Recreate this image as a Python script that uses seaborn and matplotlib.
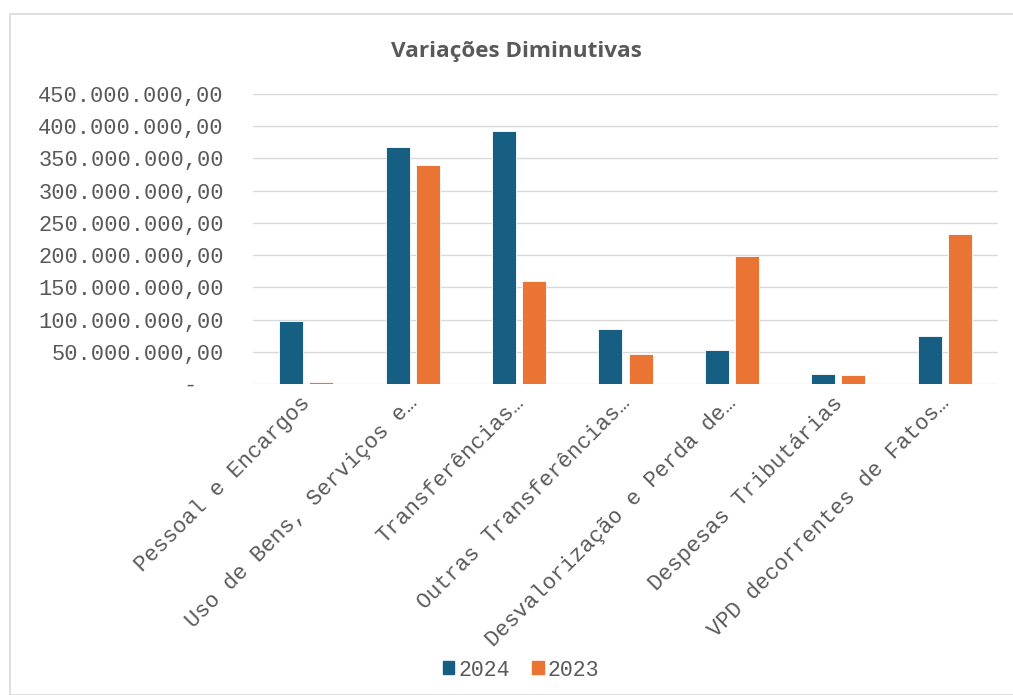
import numpy as np
import pandas as pd
import matplotlib.pyplot as plt
import matplotlib.ticker as mticker
import matplotlib.transforms as mtransforms
from matplotlib.patches import Rectangle
import seaborn as sns

categorias = [
    "Pessoal e Encargos",
    "Uso de Bens, Serviços e…",
    "Transferências…",
    "Outras Transferências…",
    "Desvalorização e Perda de…",
    "Despesas Tributárias",
    "VPD decorrentes de Fatos…",
]
anos = ["2024", "2023"]
valores_2024 = [98e6, 367e6, 393e6, 86e6, 53e6, 16e6, 74e6]
valores_2023 = [3e6, 340e6, 160e6, 47e6, 199e6, 14e6, 232e6]
cores = {"2024": "#175E83", "2023": "#E97434"}

df = pd.DataFrame({
    "categoria": categorias * 2,
    "ano": ["2024"] * len(categorias) + ["2023"] * len(categorias),
    "valor": valores_2024 + valores_2023,
})

sns.set_theme(style="white")
plt.rcParams["font.family"] = ["Liberation Mono", "DejaVu Sans Mono"]
cinza = "#595959"

fig = plt.figure(figsize=(10.13, 6.95), dpi=100)
ax = fig.add_axes([253 / 1013, 1 - 384 / 695, 745 / 1013, 290 / 695])

# moldura do gráfico
fig.patches.append(Rectangle((10 / 1013, 0), 1.1, 1 - 14 / 695, transform=fig.transFigure,
                             fill=False, edgecolor="#D9D9D9", linewidth=1.2))

sns.barplot(data=df, x="categoria", y="valor", hue="ano", hue_order=anos,
            palette=cores, saturation=1, width=0.564, gap=0.2, ax=ax, legend=False,
            edgecolor="white", linewidth=0.6)

ax.set_ylim(0, 450e6)
ax.set_xlim(-0.5, len(categorias) - 0.5)
ax.yaxis.set_major_locator(mticker.MultipleLocator(50e6))


def fmt(v, pos):
    if v == 0:
        return "-  "
    return f"{v:,.2f}".replace(",", "X").replace(".", ",").replace("X", ".")


ax.yaxis.set_major_formatter(mticker.FuncFormatter(fmt))
ax.grid(axis="y", color="#D9D9D9", linewidth=1)
ax.set_axisbelow(True)
for s in ax.spines.values():
    s.set_visible(False)
ax.tick_params(axis="y", length=0, pad=21, labelsize=15.8, labelcolor=cinza)
ax.tick_params(axis="x", length=0, pad=6, labelsize=15.8, labelcolor=cinza)
desloc = mtransforms.ScaledTranslation(-6 / 100, 0, fig.dpi_scale_trans)
for t in ax.get_xticklabels():
    t.set_rotation(45)
    t.set_ha("right")
    t.set_rotation_mode("anchor")
    t.set_transform(t.get_transform() + desloc)
ax.set_xlabel("")
ax.set_ylabel("")

fig.text(516 / 1013, 1 - 51 / 695, "Variações Diminutivas", ha="center", va="center",
         fontsize=16.2, fontweight="bold", color=cinza, family=["Open Sans", "DejaVu Sans"])

handles = [Rectangle((0, 0), 1, 1, color=cores[a]) for a in anos]
fig.legend(handles, anos, loc="center", bbox_to_anchor=(521 / 1013, 1 - 670 / 695), ncol=2,
           frameon=False, fontsize=15.5, labelcolor=cinza, handlelength=0.55, handleheight=0.55,
           handletextpad=0.2, columnspacing=1.0)

fig.savefig("out.png", dpi=100)
